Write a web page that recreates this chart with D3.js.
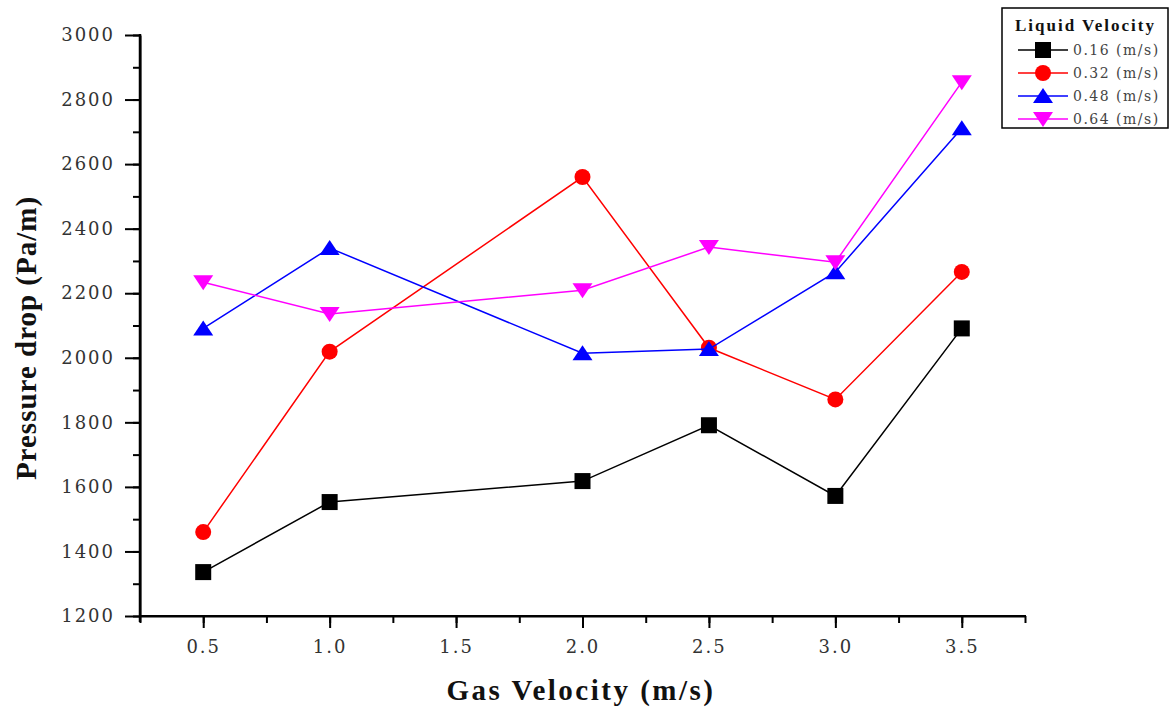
<!DOCTYPE html>
<html>
<head>
<meta charset="UTF-8">
<title>Pressure drop vs gas velocity</title>
<style>
    body { margin: 0; background: #fff; }
    svg { display: block; }
    .tick text { font-family: "DejaVu Serif", serif; font-size: 18px; fill: #333; letter-spacing: 2px; }
    .axis path, .axis line { stroke: #000; stroke-width: 2px; }
    .title { font-family: "Liberation Serif", serif; font-weight: bold; fill: #111; }
</style>
<script src="https://d3js.org/d3.v7.min.js"></script>
</head>
<body>
<div id="chart"></div>
<script>
// data
const gasVelocity = [0.5, 1.0, 2.0, 2.5, 3.0, 3.5];
const liquidLabels = ["0.16 (m/s)", "0.32 (m/s)", "0.48 (m/s)", "0.64 (m/s)"];
const dp016 = [1336, 1553, 1618, 1791, 1572, 2091];
const dp032 = [1460, 2019, 2560, 2031, 1871, 2266];
const dp048 = [2091, 2340, 2014, 2027, 2265, 2711];
const dp064 = [2234, 2136, 2209, 2343, 2296, 2854];
const xTicks = [0.5, 1.0, 1.5, 2.0, 2.5, 3.0, 3.5];
const yTicks = [1200, 1400, 1600, 1800, 2000, 2200, 2400, 2600, 2800, 3000];

const colors = ["#000000", "#ff0000", "#0000ff", "#ff00ff"];
const shapes = ["square", "circle", "up", "down"];
const allSeries = [dp016, dp032, dp048, dp064];

const width = 1170, height = 707;
const svg = d3.select("#chart").append("svg")
    .attr("width", width).attr("height", height);

const x = d3.scaleLinear().domain([0.25, 3.75]).range([140, 1025]);
const y = d3.scaleLinear().domain([1200, 3000]).range([616, 35]);

// minor ticks first
svg.append("g").attr("class", "axis")
    .attr("transform", "translate(0,616)")
    .call(d3.axisBottom(x).tickValues(d3.range(0.25, 3.8, 0.25)).tickSize(7).tickFormat("").tickSizeOuter(0));
svg.append("g").attr("class", "axis")
    .attr("transform", "translate(140,0)")
    .call(d3.axisLeft(y).tickValues(d3.range(1200, 3001, 100)).tickSize(7).tickFormat("").tickSizeOuter(0));

// major ticks
const xAxis = svg.append("g").attr("class", "axis")
    .attr("transform", "translate(0,616)")
    .call(d3.axisBottom(x).tickValues(xTicks).tickSize(12).tickPadding(12).tickFormat(d3.format(".1f")).tickSizeOuter(0));
const yAxis = svg.append("g").attr("class", "axis")
    .attr("transform", "translate(140,0)")
    .call(d3.axisLeft(y).tickValues(yTicks).tickSize(15).tickPadding(10).tickFormat(d3.format("d")).tickSizeOuter(0));
xAxis.select(".domain").remove();
yAxis.select(".domain").remove();
svg.append("line").attr("x1", 139).attr("x2", 1026).attr("y1", 616).attr("y2", 616)
    .attr("stroke", "#000").attr("stroke-width", 2);
svg.append("line").attr("x1", 140).attr("x2", 140).attr("y1", 34).attr("y2", 622)
    .attr("stroke", "#000").attr("stroke-width", 2.5);

// axis titles
svg.append("text").attr("class", "title")
    .attr("x", 581).attr("y", 700)
    .attr("text-anchor", "middle")
    .style("font-size", "29px").style("letter-spacing", "2.5px")
    .text("Gas Velocity (m/s)");
svg.append("text").attr("class", "title")
    .attr("transform", "translate(36,338) rotate(-90)")
    .attr("text-anchor", "middle")
    .style("font-size", "29px").style("letter-spacing", "1px")
    .text("Pressure drop (Pa/m)");

function drawMarker(g, shape, color, cx, cy) {
    if (shape === "square") {
        g.append("rect").attr("x", cx - 8).attr("y", cy - 8)
            .attr("width", 16).attr("height", 16).attr("fill", color);
    } else if (shape === "circle") {
        g.append("circle").attr("cx", cx).attr("cy", cy).attr("r", 8).attr("fill", color);
    } else {
        const s = shape === "up" ? 1 : -1;
        g.append("path")
            .attr("d", `M${cx},${cy - 8 * s} L${cx + 10},${cy + 7 * s} L${cx - 10},${cy + 7 * s} Z`)
            .attr("fill", color);
    }
}

const line = d3.line().x((d, i) => x(gasVelocity[i])).y(d => y(d));

allSeries.forEach((vals, k) => {
    const g = svg.append("g");
    g.append("path").datum(vals)
        .attr("d", line)
        .attr("fill", "none")
        .attr("stroke", colors[k])
        .attr("stroke-width", 1.5);
    vals.forEach((v, i) => drawMarker(g, shapes[k], colors[k], x(gasVelocity[i]), y(v)));
});

// legend
const lg = svg.append("g");
lg.append("rect").attr("x", 1002).attr("y", 8).attr("width", 166).attr("height", 120)
    .attr("fill", "#fff").attr("stroke", "#000").attr("stroke-width", 1.5);
lg.append("text").attr("x", 1015).attr("y", 31)
    .style("font-family", "Liberation Serif, serif").style("font-weight", "bold")
    .style("font-size", "17px").style("letter-spacing", "2px").attr("fill", "#111")
    .text("Liquid Velocity");
liquidLabels.forEach((lab, k) => {
    const cy = 50 + k * 23;
    lg.append("line").attr("x1", 1018).attr("x2", 1068).attr("y1", cy).attr("y2", cy)
        .attr("stroke", colors[k]).attr("stroke-width", 1.5);
    drawMarker(lg, shapes[k], colors[k], 1043, cy);
    lg.append("text").attr("x", 1073).attr("y", cy + 5)
        .style("font-family", "DejaVu Serif, serif").style("font-size", "14px")
        .style("letter-spacing", "1.5px").attr("fill", "#444")
        .text(lab);
});
</script>
</body>
</html>
